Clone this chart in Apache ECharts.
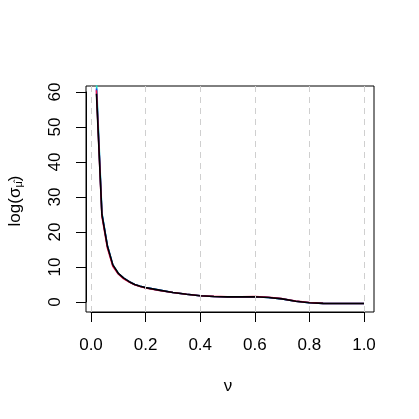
<!DOCTYPE html>
<html><head><meta charset="utf-8">
<script src="https://cdn.jsdelivr.net/npm/echarts@6/dist/echarts.min.js"></script>
<style>html,body{margin:0;padding:0;background:#fff}#c{width:419px;height:419px}</style>
</head><body><div id="c"></div>
<script>
const nu = [0.02,0.04,0.06,0.08,0.10,0.12,0.14,0.16,0.18,0.20,0.25,0.30,0.35,0.40,0.45,0.50,0.55,0.60,0.65,0.70,0.75,0.80,0.85,0.90,0.95,1.00];
const sBlack = [59.5,25.0,16.0,10.6,8.2,6.8,5.8,5.0,4.5,4.1,3.4,2.7,2.2,1.8,1.55,1.45,1.45,1.5,1.3,0.9,0.2,-0.2,-0.4,-0.45,-0.45,-0.45];
const sRed   = [60.5,24.5,15.5,10.2,8.0,6.6,5.7,4.9,4.4,4.0,3.3,2.7,2.2,1.8,1.6,1.5,1.5,1.55,1.35,0.95,0.25,-0.15,-0.4,-0.45,-0.45,-0.45];
const sBlue  = [61.0,25.2,16.1,10.5,8.1,6.8,5.8,5.0,4.5,4.1,3.4,2.7,2.2,1.8,1.55,1.45,1.45,1.5,1.3,0.9,0.2,-0.2,-0.4,-0.45,-0.45,-0.45];
const sCyan  = [63.0,25.5,16.2,10.6,8.2,6.8,5.8,5.0,4.5,4.1,3.4,2.7,2.2,1.8,1.55,1.45,1.45,1.5,1.3,0.9,0.2,-0.2,-0.4,-0.45,-0.45,-0.45];
const xTicks = [0,0.2,0.4,0.6,0.8,1.0];
const xTickLabels = ['0.0','0.2','0.4','0.6','0.8','1.0'];
const yTickLabels = ['0','10','20','30','40','50','60'];
const seriesDefs = [
  {name:'cyan', color:'#1FE0C8', data:sCyan},
  {name:'blue', color:'#2A3CF0', data:sBlue},
  {name:'red', color:'#E8104A', data:sRed},
  {name:'black', color:'#000000', data:sBlack}
];
const FONT = 'Liberation Sans, Arial, Helvetica, sans-serif';
const chart = echarts.init(document.getElementById('c'), null, {renderer:'canvas'});
const series = seriesDefs.map(d => ({
  type:'line', name:d.name, xAxisIndex:0, yAxisIndex:0, z:3,
  data: nu.map((x,i)=>[x,d.data[i]]),
  showSymbol:false, symbol:'none', clip:true,
  lineStyle:{color:d.color, width:1.6}
}));
series.unshift({
  type:'line', xAxisIndex:0, yAxisIndex:0, data:[], z:1, silent:true,
  markLine:{silent:true, symbol:'none', label:{show:false},
    lineStyle:{color:'#cfcfcf', type:[6,5], width:1},
    data: xTicks.map(v=>({xAxis:v}))}
});
chart.setOption({
  animation:false,
  backgroundColor:'#fff',
  grid:[
    {left:86,right:45,top:86,bottom:107,show:true,borderColor:'#000',borderWidth:1,backgroundColor:'transparent'},
    {left:91,right:55,top:92,bottom:117}
  ],
  xAxis:[
    {gridIndex:0,type:'value',min:-0.0183,max:1.0366,show:false},
    {gridIndex:1,type:'value',min:0,max:1,interval:0.2,offset:10,position:'bottom',
     axisLine:{show:true,onZero:false,lineStyle:{color:'#000',width:1}},
     axisTick:{show:true,length:10,lineStyle:{color:'#000'}},
     splitLine:{show:false},
     axisLabel:{fontFamily:FONT,fontSize:17,color:'#000',margin:25,
       formatter:v=>xTickLabels[Math.round(v/0.2)]}}
  ],
  yAxis:[
    {gridIndex:0,type:'value',min:-2.86,max:61.71,show:false},
    {gridIndex:1,type:'value',min:0,max:60,interval:10,offset:5,position:'left',
     axisLine:{show:true,onZero:false,lineStyle:{color:'#000',width:1}},
     axisTick:{show:true,length:10,lineStyle:{color:'#000'}},
     splitLine:{show:false},
     axisLabel:{fontFamily:FONT,fontSize:17,color:'#000',margin:22,rotate:90,
       formatter:v=>yTickLabels[Math.round(v/10)]}}
  ],
  graphic:[
    {type:'text',x:228,y:386,style:{text:'ν',font:'17px '+FONT,fill:'#000',align:'center',verticalAlign:'middle'}},
    {type:'text',x:15,y:201,rotation:Math.PI/2,
     style:{text:'log(σ{s|μ̂})',font:'17px '+FONT,fill:'#000',align:'center',verticalAlign:'middle',
       rich:{s:{fontSize:11,fontFamily:FONT,verticalAlign:'bottom',padding:[8,0,0,0]}}}}
  ],
  series:series
});
</script></body></html>
